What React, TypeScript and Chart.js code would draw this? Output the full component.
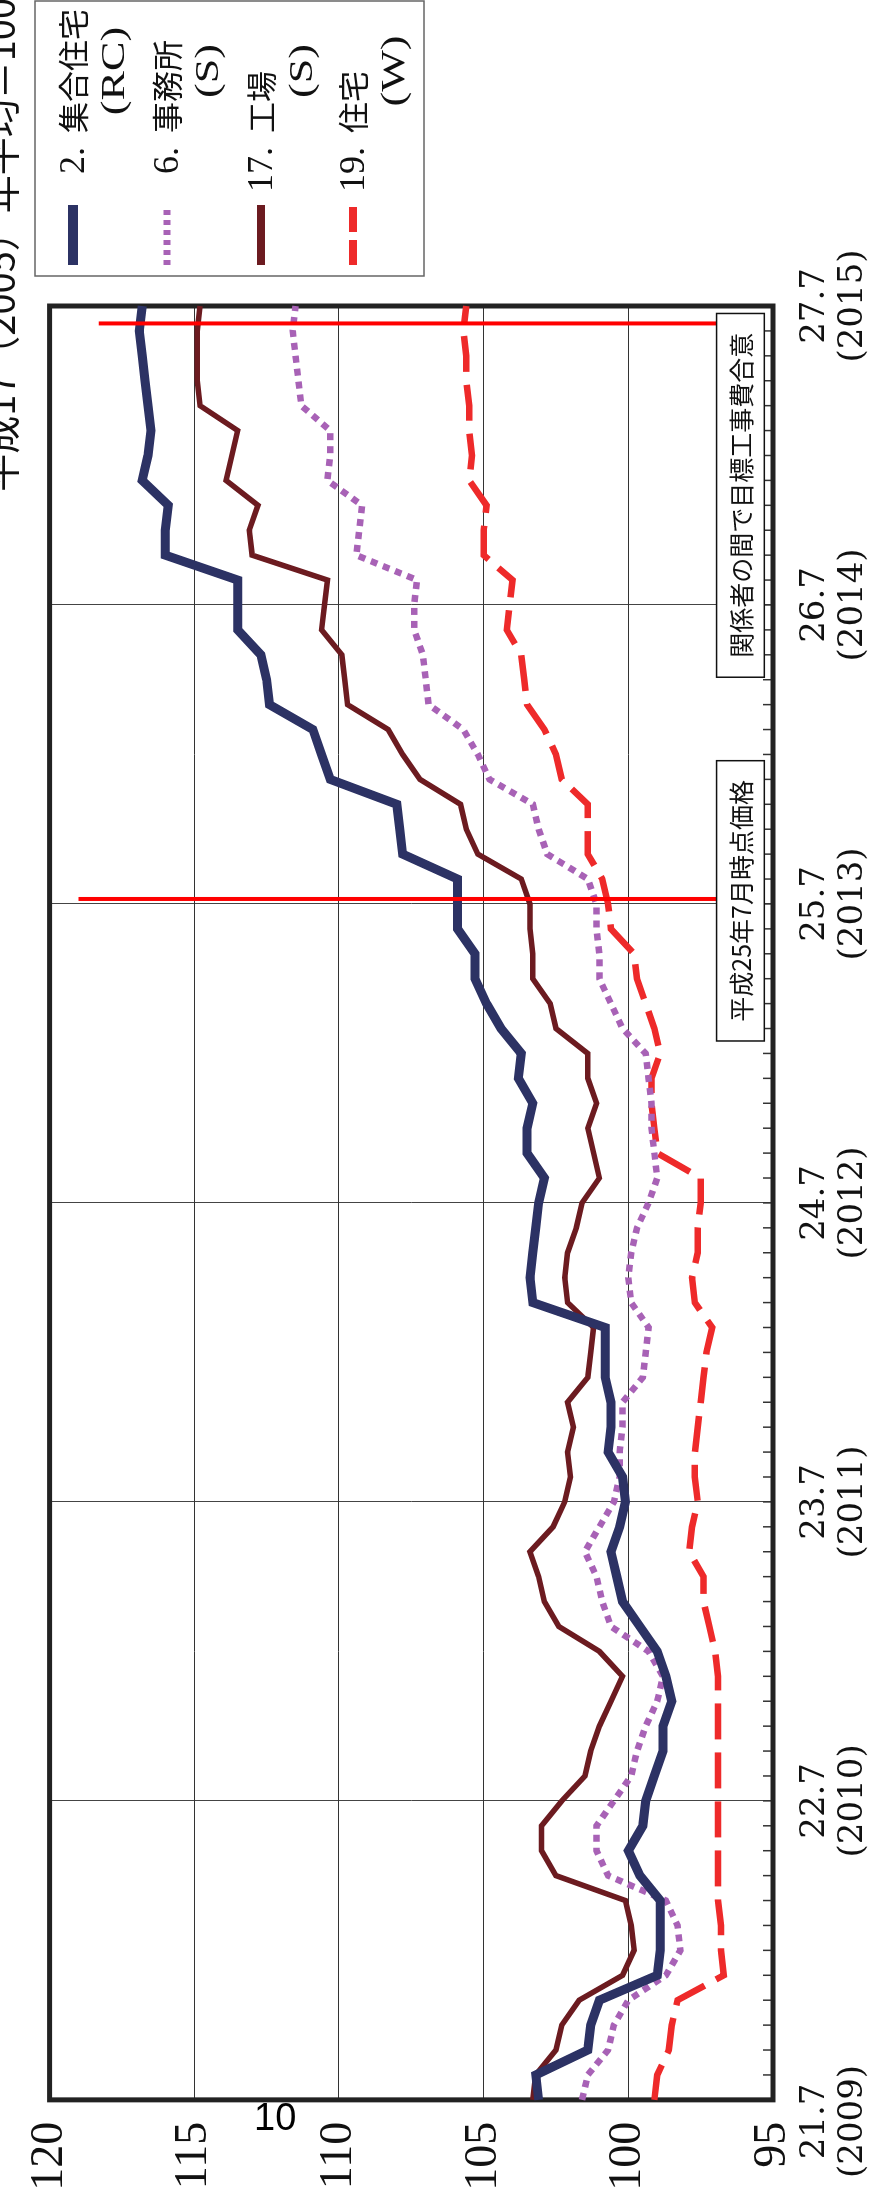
import React, { useEffect, useRef } from 'react';
import { Chart, registerables } from 'chart.js';

Chart.register(...registerables);

// ---- categories: monthly points from 2009/7 (平成21年7月) to 2015/7 (平成27年7月)
const MONTH_LABELS: string[] = [];
for (let i = 0; i <= 72; i++) {
  const mm = 6 + i;
  MONTH_LABELS.push(`${2009 + Math.floor(mm / 12)}/${(mm % 12) + 1}`);
}

const WAREKI_TICKS = ['21.7', '22.7', '23.7', '24.7', '25.7', '26.7', '27.7'];
const YEAR_TICKS = ['(2009)', '(2010)', '(2011)', '(2012)', '(2013)', '(2014)', '(2015)'];

// ---- series (平成17(2005)年平均 = 100)
const SERIES_RC = [
  103.1, 103.2, 101.4, 101.3, 101.0, 99.0, 98.9, 98.9, 98.9, 99.6,
  100.0, 99.5, 99.4, 99.1, 98.8, 98.8, 98.5, 98.7, 99.0, 99.6,
  100.2, 100.4, 100.6, 100.3, 100.1, 100.2, 100.7, 100.6, 100.6, 100.8,
  100.8, 100.8, 103.3, 103.4, 103.3, 103.2, 103.1, 102.9, 103.5, 103.5,
  103.3, 103.8, 103.7, 104.4, 104.9, 105.3, 105.3, 105.9, 105.9, 105.9,
  107.8, 107.9, 108.0, 110.3, 110.6, 110.9, 112.4, 112.5, 112.7, 113.5,
  113.5, 113.5, 116.0, 116.0, 115.9, 116.8, 116.6, 116.5, 116.6, 116.7,
  116.8, 116.9, 116.8,
];
const SERIES_OFFICE = [
  101.6, 101.4, 100.7, 100.5, 100.0, 98.7, 98.2, 98.3, 98.7, 100.7,
  101.1, 101.1, 100.5, 99.9, 99.7, 99.4, 99.0, 98.8, 99.3, 100.6,
  100.9, 101.1, 101.5, 101.0, 100.5, 100.3, 100.3, 100.2, 100.2, 99.5,
  99.4, 99.3, 99.9, 100.0, 99.9, 99.7, 99.3, 99.0, 99.1, 99.2,
  99.2, 99.3, 99.4, 100.2, 100.6, 101.0, 101.0, 101.1, 101.1, 101.4,
  102.8, 103.1, 103.3, 104.8, 105.2, 105.7, 106.9, 107.0, 107.1, 107.4,
  107.4, 107.3, 109.4, 109.3, 109.2, 110.4, 110.3, 110.3, 111.3, 111.4,
  111.5, 111.6, 111.5,
];
const SERIES_FACTORY = [
  103.3, 103.2, 102.5, 102.3, 101.7, 100.2, 99.8, 99.9, 100.1, 102.5,
  103.0, 103.0, 102.3, 101.5, 101.3, 101.0, 100.6, 100.2, 101.0, 102.4,
  102.9, 103.1, 103.4, 102.6, 102.2, 102.0, 102.1, 101.9, 102.1, 101.4,
  101.3, 101.2, 102.1, 102.2, 102.1, 101.8, 101.6, 101.0, 101.2, 101.4,
  101.1, 101.4, 101.4, 102.5, 102.7, 103.3, 103.3, 103.4, 103.4, 103.7,
  105.2, 105.6, 105.8, 107.2, 107.8, 108.3, 109.7, 109.8, 109.9, 110.6,
  110.5, 110.4, 113.0, 113.1, 112.8, 113.9, 113.7, 113.5, 114.8, 114.9,
  114.9, 114.9, 114.8,
];
const SERIES_HOUSE_W = [
  99.1, 99.0, 98.6, 98.5, 98.3, 96.7, 96.8, 96.8, 96.9, 96.9,
  96.9, 96.9, 96.9, 96.9, 96.9, 96.9, 96.9, 96.9, 97.0, 97.2,
  97.4, 97.4, 97.9, 97.8, 97.6, 97.7, 97.7, 97.6, 97.5, 97.4,
  97.3, 97.1, 97.7, 97.8, 97.6, 97.6, 97.5, 97.5, 99.0, 99.1,
  99.2, 99.2, 98.9, 99.1, 99.4, 99.7, 99.8, 100.6, 100.7, 100.9,
  101.4, 101.4, 101.4, 102.3, 102.5, 102.9, 103.5, 103.6, 103.7, 104.2,
  104.1, 104.0, 105.0, 105.0, 104.9, 105.5, 105.4, 105.5, 105.5, 105.6,
  105.6, 105.7, 105.6,
];

// ---- legend
const LEGEND_NUMS = ['2.', '6.', '17.', '19.'];
const LEGEND_NAMES = ['集合住宅', '事務所', '工場', '住宅'];
const LEGEND_SUBS = ['(RC)', '(S)', '(S)', '(W)'];

// ---- annotations
const ANNOT_TEXTS = ['平成25年7月時点価格', '関係者の間で目標工事費合意'];
const ANNOT_MONTH = [48.2, 71.3];
const ANNOT_LINE_FROM = [119.0, 118.3];
const ANNOT_BOX_MONTHS = [[42.5, 53.75], [57.1, 71.7]];
const ANNOT_BOX_VALUES = [96.95, 95.3];

const TITLE = '平成17（2005）年平均＝100';
const PAGE_NO = '10';

const W = 2201;
const H = 879;

const COLORS = ['#2c3264', '#a862b6', '#6c1b20', '#ee2a2a'];
const LEGEND_W = [10, 7, 8, 8];
const LEGEND_DASH = [[], [5, 5], [], [25, 8]];

const decorPlugin = {
  id: 'decor',
  beforeDatasetsDraw(chart: any) {
    const { ctx, chartArea: a, scales } = chart;
    const x = scales.x;
    ctx.save();
    ctx.strokeStyle = '#333';
    ctx.lineWidth = 1.5;
    for (let i = 0; i < MONTH_LABELS.length; i++) {
      const px = x.getPixelForValue(i);
      ctx.beginPath();
      ctx.moveTo(px, a.bottom - 10);
      ctx.lineTo(px, a.bottom);
      ctx.stroke();
    }
    ctx.strokeStyle = '#222';
    ctx.lineWidth = 5;
    ctx.strokeRect(a.left, a.top, a.right - a.left, a.bottom - a.top);
    ctx.restore();
  },
  afterDatasetsDraw(chart: any) {
    const { ctx, scales } = chart;
    const x = scales.x;
    const y = scales.y;
    ctx.save();
    const by0 = y.getPixelForValue(ANNOT_BOX_VALUES[0]);
    const by1 = y.getPixelForValue(ANNOT_BOX_VALUES[1]);
    ANNOT_TEXTS.forEach((t, i) => {
      const lx = x.getPixelForValue(ANNOT_MONTH[i]);
      ctx.strokeStyle = '#ff0000';
      ctx.lineWidth = 4;
      ctx.beginPath();
      ctx.moveTo(lx, y.getPixelForValue(ANNOT_LINE_FROM[i]));
      ctx.lineTo(lx, by0);
      ctx.stroke();
      const bx0 = x.getPixelForValue(ANNOT_BOX_MONTHS[i][0]);
      const bx1 = x.getPixelForValue(ANNOT_BOX_MONTHS[i][1]);
      ctx.fillStyle = '#fff';
      ctx.fillRect(bx0, by0, bx1 - bx0, by1 - by0);
      ctx.strokeStyle = '#111';
      ctx.lineWidth = 1.5;
      ctx.strokeRect(bx0, by0, bx1 - bx0, by1 - by0);
      ctx.fillStyle = '#111';
      ctx.font = '25px "Noto Sans CJK JP"';
      ctx.textAlign = 'center';
      ctx.textBaseline = 'middle';
      ctx.fillText(t, (bx0 + bx1) / 2, (by0 + by1) / 2 + 1);
    });
    ctx.restore();
  },
  afterDraw(chart: any) {
    const { ctx } = chart;
    ctx.save();
    // title (mostly cut off at the edge)
    ctx.fillStyle = '#111';
    ctx.font = '38px "Noto Sans CJK JP"';
    ctx.textAlign = 'right';
    ctx.textBaseline = 'alphabetic';
    ctx.fillText(TITLE, W + 2, 15);
    // legend
    ctx.strokeStyle = '#666';
    ctx.lineWidth = 1.5;
    ctx.strokeRect(1925, 35, 2200 - 1925, 424 - 35);
    const rows = [73, 167, 261, 353];
    rows.forEach((ry, i) => {
      const ds = chart.data.datasets[i];
      ctx.beginPath();
      ctx.setLineDash(LEGEND_DASH[i]);
      ctx.lineWidth = LEGEND_W[i];
      ctx.strokeStyle = ds.borderColor;
      ctx.lineCap = 'butt';
      ctx.moveTo(1936, ry);
      ctx.lineTo(1996, ry);
      ctx.stroke();
      ctx.setLineDash([]);
      ctx.fillStyle = '#111';
      ctx.textBaseline = 'middle';
      ctx.font = '36px "Liberation Serif"';
      ctx.textAlign = 'right';
      ctx.fillText(LEGEND_NUMS[i], 2054, ry + 2);
      ctx.font = '31px "Noto Sans CJK JP"';
      ctx.textAlign = 'left';
      ctx.fillText(LEGEND_NAMES[i], 2068, ry);
      ctx.save();
      ctx.translate(2130, ry + 42);
      ctx.scale(1.3, 1);
      ctx.font = '34px "Liberation Serif"';
      ctx.textAlign = 'center';
      ctx.fillText(LEGEND_SUBS[i], 0, 0);
      ctx.restore();
    });
    ctx.restore();
  },
};

export default function App() {
  const ref = useRef<HTMLCanvasElement | null>(null);

  useEffect(() => {
    if (!ref.current) return;
    const pad = '\u00a0\u00a0\u00a0\u00a0';
    const chart = new Chart(ref.current, {
      type: 'line',
      data: {
        labels: MONTH_LABELS,
        datasets: [
          {
            label: '2. 集合住宅(RC)',
            data: SERIES_RC,
            borderColor: COLORS[0],
            borderWidth: 9,
            pointRadius: 0,
            tension: 0,
          },
          {
            label: '6. 事務所(S)',
            data: SERIES_OFFICE,
            borderColor: COLORS[1],
            borderWidth: 6.5,
            borderDash: [7, 6],
            pointRadius: 0,
            tension: 0,
          },
          {
            label: '17. 工場(S)',
            data: SERIES_FACTORY,
            borderColor: COLORS[2],
            borderWidth: 5.5,
            pointRadius: 0,
            tension: 0,
          },
          {
            label: '19. 住宅(W)',
            data: SERIES_HOUSE_W,
            borderColor: COLORS[3],
            borderWidth: 6.5,
            borderDash: [36, 13],
            pointRadius: 0,
            tension: 0,
          },
        ],
      },
      options: {
        animation: false,
        responsive: false,
        devicePixelRatio: 1,
        layout: { padding: { left: 0, right: 306, top: 31, bottom: 0 } },
        plugins: {
          legend: { display: false },
          tooltip: { enabled: false },
        },
        scales: {
          x: {
            type: 'category',
            offset: false,
            grid: {
              color: (c: any) => (c.index % 12 === 0 ? '#444' : 'rgba(0,0,0,0)'),
              lineWidth: 1,
              drawTicks: false,
            },
            border: { display: false },
            ticks: {
              autoSkip: false,
              maxRotation: 0,
              minRotation: 0,
              padding: 23,
              color: '#111',
              font: { family: '"DejaVu Serif"', size: 34, lineHeight: '38px' },
              callback: (_v: any, i: number) => {
                if (i % 12 !== 0) return '';
                const k = i / 12;
                if (k === 0) return [WAREKI_TICKS[k] + pad, YEAR_TICKS[k] + pad];
                return [WAREKI_TICKS[k], YEAR_TICKS[k]];
              },
            },
            afterFit: (s: any) => {
              s.height = H - 773;
            },
          },
          y: {
            min: 95,
            max: 120,
            grid: { color: '#333', lineWidth: 1, drawTicks: false },
            border: { display: false },
            ticks: {
              stepSize: 5,
              padding: 22,
              color: '#111',
              font: { family: '"Liberation Serif"', size: 46 },
            },
            afterFit: (s: any) => {
              s.width = 91;
            },
          },
        },
      },
      plugins: [decorPlugin],
    } as any);
    return () => chart.destroy();
  }, []);

  return (
    <div style={{ position: 'absolute', left: 0, top: 0, width: 879, height: 2201, overflow: 'hidden', background: '#fff' }}>
      <div
        style={{
          position: 'absolute',
          left: 0,
          top: 0,
          width: W,
          height: H,
          transformOrigin: '0 0',
          transform: `translateY(${W}px) rotate(-90deg)`,
        }}
      >
        <canvas ref={ref} width={W} height={H} style={{ display: 'block', width: W, height: H }} />
      </div>
      <div
        style={{
          position: 'absolute',
          left: 254,
          top: 2098,
          fontFamily: '"Liberation Sans", Arial, sans-serif',
          fontSize: 38,
          lineHeight: '38px',
          color: '#000',
        }}
      >
        {PAGE_NO}
      </div>
    </div>
  );
}
